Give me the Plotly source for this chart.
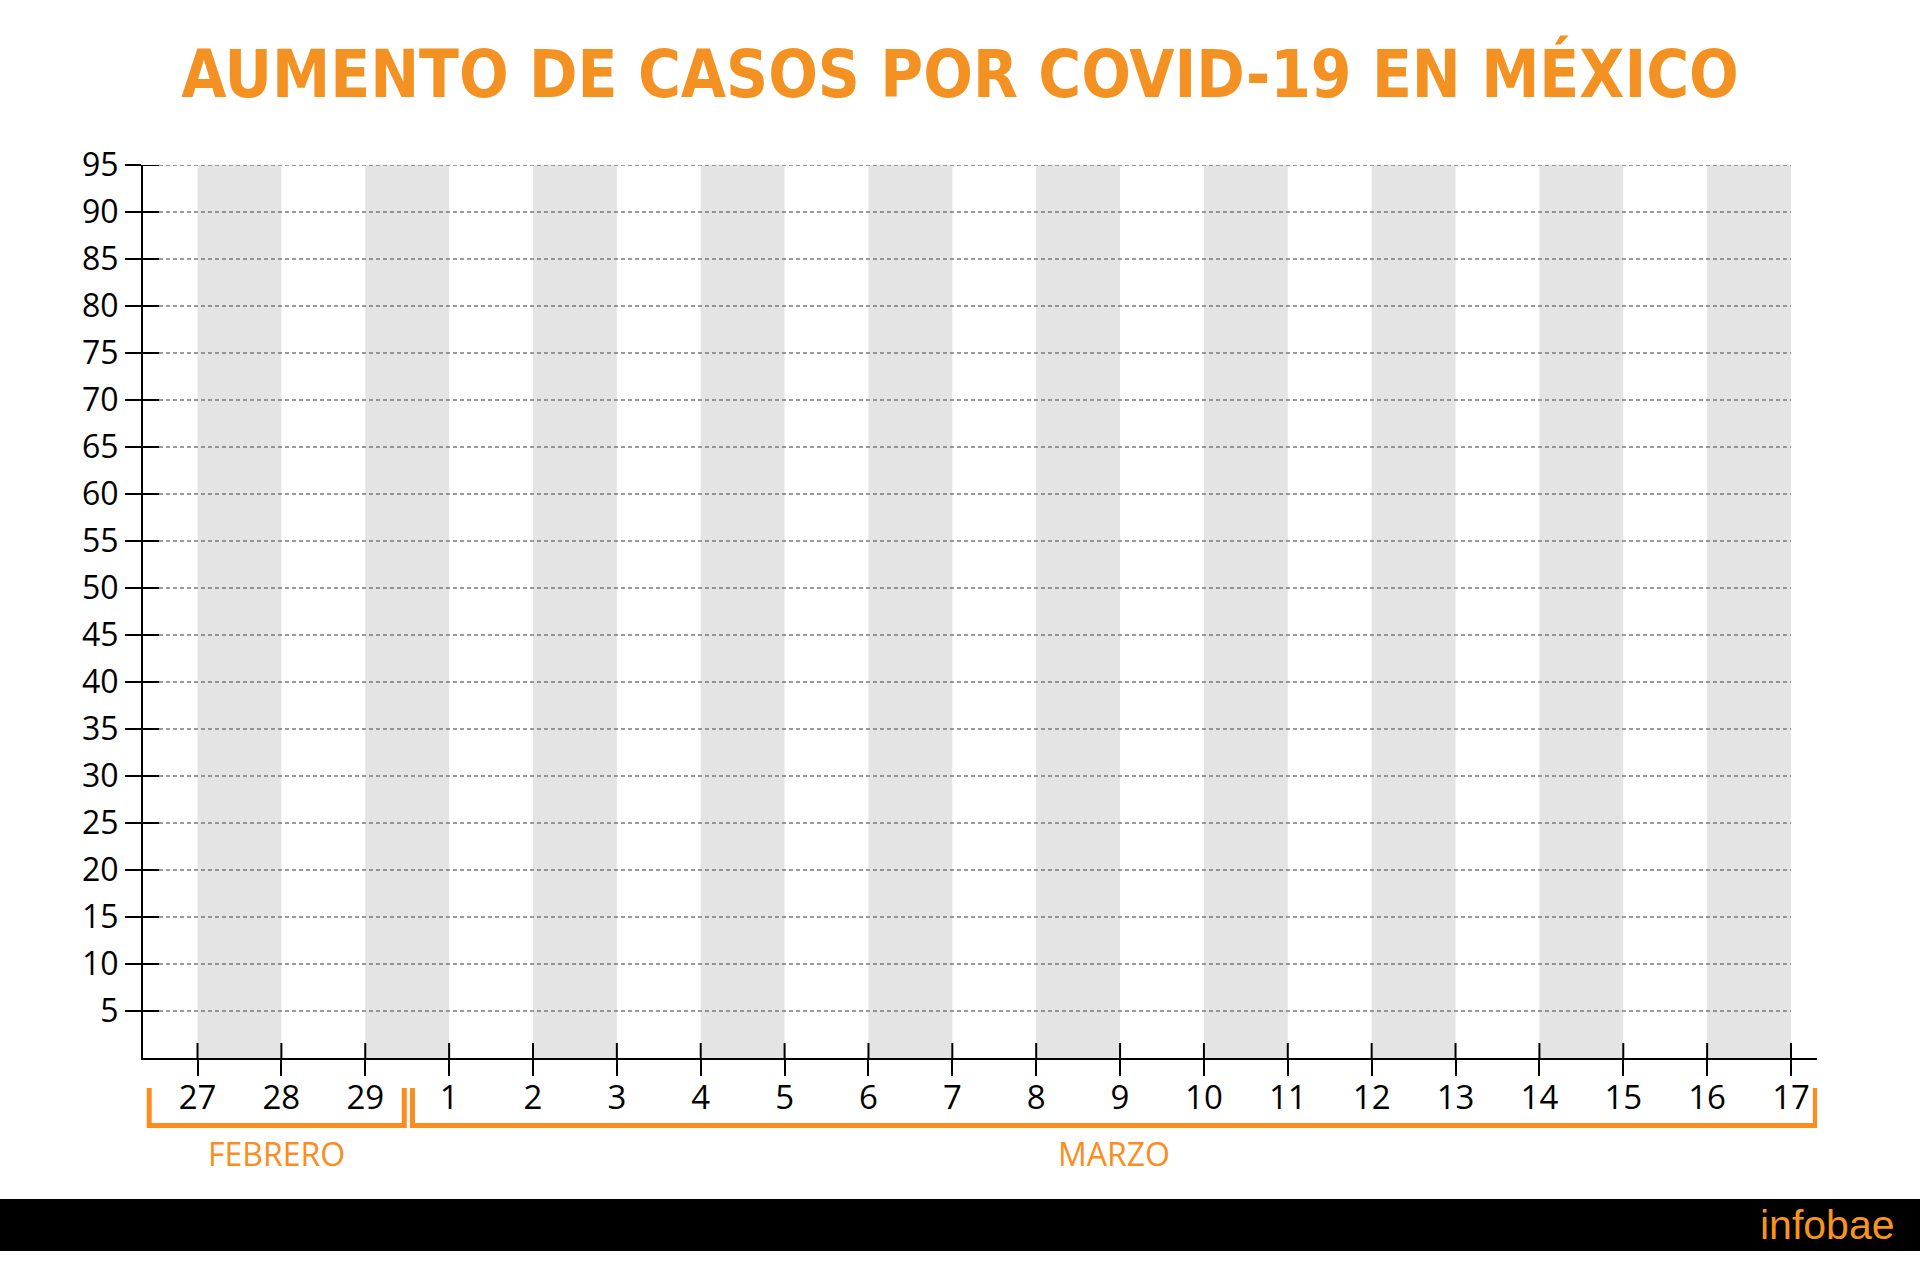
import plotly.graph_objects as go

# Day labels along the x axis (end of February, then March)
feb_days = ["27", "28", "29"]
mar_days = ["1", "2", "3", "4", "5", "6", "7", "8", "9", "10",
            "11", "12", "13", "14", "15", "16", "17"]
day_labels = feb_days + mar_days

# Case-count scale
y_ticks = [5, 10, 15, 20, 25, 30, 35, 40, 45, 50, 55, 60, 65, 70, 75, 80, 85, 90, 95]
y_max = 95

month_names = ["FEBRERO", "MARZO"]

TITLE_ORANGE = "#F39223"
ORANGE = "#FB8C1D"
BAND_GRAY = "#E4E4E4"
GRID_GRAY = "#7A7A7A"

W, H = 1920, 1273
M_L, M_R, M_T, M_B = 143, 103, 165, 215
plot_w = W - M_L - M_R
plot_h = H - M_T - M_B

x_idx = list(range(len(day_labels)))
x_lo, x_hi = -0.65, 19.31
px_per_x = plot_w / (x_hi - x_lo)
px_per_y = plot_h / y_max


def paper_y(px_below_axis):
    """Convert a pixel distance below the x axis into paper coordinates."""
    return -px_below_axis / plot_h


def paper_x(px_from_left_edge):
    return (px_from_left_edge - M_L) / plot_w


fig = go.Figure()

# Alternating shaded day bands (every other day interval)
band_x = [(x_idx[i] + x_idx[i + 1]) / 2 for i in range(0, len(x_idx) - 1, 2)]
fig.add_bar(
    x=band_x, y=[y_max] * len(band_x), width=1,
    marker=dict(color=BAND_GRAY, line=dict(width=0)),
    hoverinfo="skip", showlegend=False,
)

shapes = []

# Inner half of the crossing ticks on both axes
tick_in_x = 16 / px_per_x
tick_in_y = 15 / px_per_y
for xv in x_idx:
    shapes.append(dict(type="line", xref="x", yref="y", x0=xv, x1=xv,
                       y0=0, y1=tick_in_y, line=dict(color="black", width=2)))
for yv in y_ticks:
    shapes.append(dict(type="line", xref="x", yref="y", x0=x_lo, x1=x_lo + tick_in_x,
                       y0=yv, y1=yv, line=dict(color="black", width=2)))
    # dashed horizontal guide
    shapes.append(dict(type="line", xref="x", yref="y", x0=x_lo + tick_in_x, x1=x_idx[-1],
                       y0=yv, y1=yv, line=dict(color=GRID_GRAY, width=1.5, dash="4px,3px")))

# Month brackets under the day labels
top_b, bot_b = paper_y(30), paper_y(67.5)
brackets = [(-0.576, 2.465), (2.563, 19.29)]
for (b0, b1), name in zip(brackets, month_names):
    shapes.append(dict(
        type="path", xref="x", yref="paper",
        path=f"M {b0},{top_b} L {b0},{bot_b} L {b1},{bot_b} L {b1},{top_b}",
        line=dict(color=ORANGE, width=5),
    ))

# Black footer strip
shapes.append(dict(type="rect", xref="paper", yref="paper", x0=-0.2, x1=1.2,
                   y0=paper_y(141), y1=paper_y(193), fillcolor="black",
                   line=dict(width=0), layer="above"))

annotations = []
for (b0, b1), name in zip(brackets, month_names):
    annotations.append(dict(
        text=name, xref="x", yref="paper", x=(b0 + b1) / 2, y=paper_y(95),
        xanchor="center", yanchor="middle", showarrow=False,
        font=dict(family="Open Sans", size=32, color=ORANGE),
    ))

annotations.append(dict(
    text="infobae", xref="paper", yref="paper", x=paper_x(1897), y=paper_y(167),
    xanchor="right", yanchor="middle", showarrow=False,
    font=dict(family="Liberation Sans", size=41, color="#F7941D"),
))

fig.update_layout(
    width=W, height=H, autosize=False,
    margin=dict(l=M_L, r=M_R, t=M_T, b=M_B, pad=0),
    paper_bgcolor="white", plot_bgcolor="white",
    showlegend=False,
    title=dict(
        text="<b>AUMENTO DE CASOS POR COVID-19 EN MÉXICO</b>",
        x=0.5, xref="container", xanchor="center",
        y=1 - 74 / H, yref="container", yanchor="middle",
        font=dict(family="DejaVu Sans Condensed, Roboto, sans-serif", size=65,
                  color=TITLE_ORANGE),
    ),
    xaxis=dict(
        range=[x_lo, x_hi], tickmode="array", tickvals=x_idx, ticktext=day_labels,
        ticks="outside", ticklen=16, tickwidth=2, tickcolor="black",
        showline=True, linecolor="black", linewidth=2,
        showgrid=False, zeroline=False, fixedrange=True,
        ticklabelstandoff=-7,
        tickfont=dict(family="Open Sans", size=33, color="black"),
    ),
    yaxis=dict(
        range=[0, y_max], tickmode="array", tickvals=y_ticks,
        ticks="outside", ticklen=16, tickwidth=2, tickcolor="black",
        showline=True, linecolor="black", linewidth=2,
        showgrid=False, zeroline=False, fixedrange=True,
        tickfont=dict(family="Open Sans", size=32, color="black"),
    ),
    shapes=shapes,
    annotations=annotations,
)

fig.write_html("out.html")
